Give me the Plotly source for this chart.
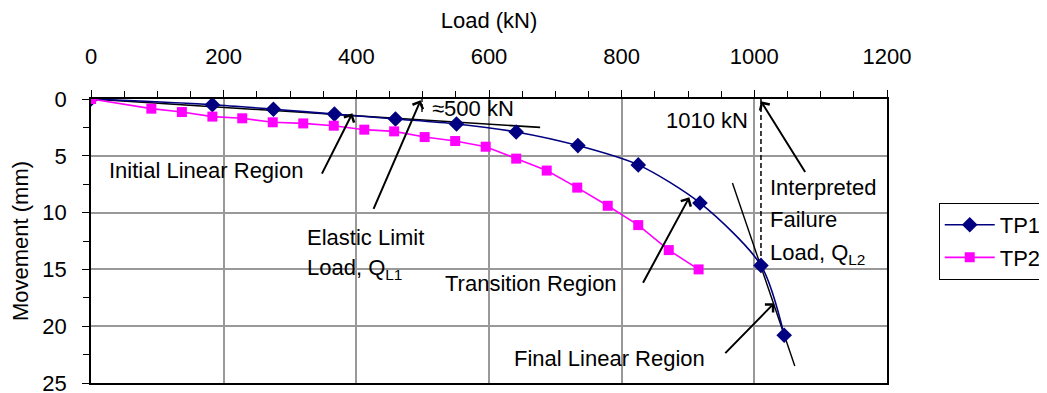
import plotly.graph_objects as go

# ---- data ----
tp1_load = [0, 183, 275, 367, 459, 551, 641, 734, 825, 918, 1010, 1045]
tp1_move = [0, 0.5, 0.9, 1.33, 1.76, 2.2, 2.9, 4.1, 5.8, 9.15, 14.65, 20.8]

tp2_load = [0, 91, 137, 183, 228, 274, 320, 366, 412, 457, 503, 549, 595, 641, 687, 733, 779, 825, 871, 916]
tp2_move = [0, 0.85, 1.15, 1.55, 1.7, 2.05, 2.15, 2.35, 2.7, 2.85, 3.35, 3.7, 4.2, 5.25, 6.3, 7.8, 9.4, 11.1, 13.3, 15.0]

init_line_load = [0, 677]
init_line_move = [0, 2.5]
final_line_load = [967, 1061]
final_line_move = [7.4, 23.5]
ql1_load = [499, 499]
ql1_move = [0, 1.3]
ql2_load = [1010, 1010]
ql2_move = [0, 14.3]

x_ticks = [0, 200, 400, 600, 800, 1000, 1200]
y_ticks = [0, 5, 10, 15, 20, 25]

# labels: (text, x, y, xanchor)
labels = [
    ("≈500 kN", 511, 0.85, "left"),
    ("Initial Linear Region", 24, 6.25, "left"),
    ("Elastic Limit", 322, 12.15, "left"),
    ("Load, Q<sub>L1</sub>", 322, 15.0, "left"),
    ("1010 kN", 994, 1.85, "right"),
    ("Interpreted", 1020, 7.8, "left"),
    ("Failure", 1020, 10.65, "left"),
    ("Load, Q<sub>L2</sub>", 1020, 13.6, "left"),
    ("Transition Region", 530, 16.2, "left"),
    ("Final Linear Region", 634, 22.8, "left"),
]

# arrows: (head_x, head_y, tail_x, tail_y)
arrows = [
    (394, 1.26, 347, 6.7),
    (497, 0.1, 425, 9.8),
    (1010, 0.2, 1078, 6.55),
    (902, 8.65, 831, 16.3),
    (1030, 17.97, 954, 22.5),
]

FONT = "Liberation Sans, Arial, sans-serif"
FS = 22

fig = go.Figure()

fig.add_trace(go.Scatter(x=init_line_load, y=init_line_move, mode="lines",
                         line=dict(color="black", width=1.6), showlegend=False, hoverinfo="skip"))
fig.add_trace(go.Scatter(x=final_line_load, y=final_line_move, mode="lines",
                         line=dict(color="black", width=1.4), showlegend=False, hoverinfo="skip"))
fig.add_trace(go.Scatter(x=ql1_load, y=ql1_move, mode="lines",
                         line=dict(color="black", width=1.3, dash="3px,2px"), showlegend=False, hoverinfo="skip"))
fig.add_trace(go.Scatter(x=ql2_load, y=ql2_move, mode="lines",
                         line=dict(color="black", width=1.5, dash="5px,3px"), showlegend=False, hoverinfo="skip"))

fig.add_trace(go.Scatter(x=tp1_load, y=tp1_move, name="TP1", mode="lines+markers",
                         line=dict(color="#000080", width=1.6, shape="spline", smoothing=0.8),
                         marker=dict(symbol="diamond", size=12, color="#000080"),
                         legendgroup="a"))
fig.add_trace(go.Scatter(x=tp2_load, y=tp2_move, name="TP2", mode="lines+markers",
                         line=dict(color="#FF00FF", width=1.6),
                         marker=dict(symbol="square", size=10, color="#FF00FF"),
                         legendgroup="b"))

annotations = []
for t, x, y, xa in labels:
    annotations.append(dict(text=t, x=x, y=y, xref="x", yref="y", xanchor=xa, yanchor="middle",
                            showarrow=False, font=dict(family=FONT, size=FS, color="black")))
for hx, hy, tx, ty in arrows:
    annotations.append(dict(text="", x=hx, y=hy, ax=tx, ay=ty, xref="x", yref="y",
                            axref="x", ayref="y", showarrow=True, arrowhead=4,
                            arrowsize=1.1, arrowwidth=2, arrowcolor="black", standoff=0))

# the page body has an 8px margin, so the figure is sized/offset to land the plot area
# where the reference has it
fig.update_layout(
    width=1031, height=395,
    margin=dict(l=83, r=152, t=91, b=20, autoexpand=False),
    paper_bgcolor="white", plot_bgcolor="white",
    font=dict(family=FONT, size=FS, color="black"),
    annotations=annotations,
    legend=dict(x=1.065, y=0.634, xanchor="left", yanchor="top",
                bordercolor="black", borderwidth=1, bgcolor="white",
                font=dict(family=FONT, size=FS, color="black"),
                itemwidth=50, tracegroupgap=1),
    xaxis=dict(side="top", range=[0, 1200], tickvals=x_ticks, ticks="outside", ticklen=7,
               tickcolor="black", showline=True, linecolor="black", linewidth=1.5, mirror=True,
               showgrid=True, gridcolor="#999999", gridwidth=1.5, zeroline=False, automargin=False,
               minor=dict(dtick=50, ticks="outside", ticklen=6, tickcolor="black", showgrid=False),
               ticklabelstandoff=17, ticklabeloverflow="allow",
               title=dict(text="Load (kN)", standoff=12, font=dict(family=FONT, size=FS))),
    yaxis=dict(range=[25, 0], tickvals=y_ticks, ticks="outside", ticklen=7,
               tickcolor="black", showline=True, linecolor="black", linewidth=1.5, mirror=True,
               showgrid=True, gridcolor="#999999", gridwidth=1.5, zeroline=False, automargin=False,
               minor=dict(dtick=2.5, ticks="outside", ticklen=6, tickcolor="black", showgrid=False),
               ticklabelstandoff=11, ticklabeloverflow="allow",
               title=dict(text="Movement (mm)", standoff=19, font=dict(family=FONT, size=FS))),
)

fig.write_html("out.html")
